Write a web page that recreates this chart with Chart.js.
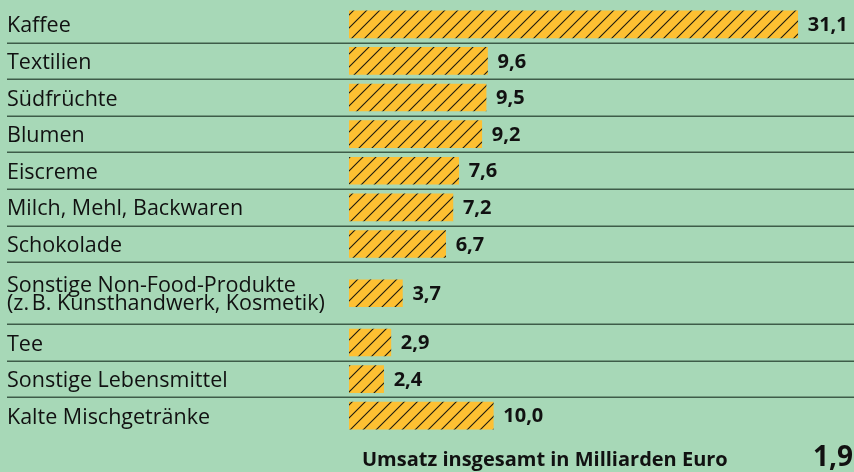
<!DOCTYPE html>
<html>
<head>
<meta charset="utf-8">
<script src="https://cdn.jsdelivr.net/npm/chart.js@4.4.1/dist/chart.umd.min.js"></script>
<style>
  html, body { margin: 0; padding: 0; background: #a7d8b7; }
  #wrap { width: 854px; height: 472px; position: relative; }
</style>
</head>
<body>
<div id="wrap"><canvas id="umsatzChart"></canvas></div>
<script>
/* ---- data ---- */
const categories = [
    'Kaffee',
    'Textilien',
    'Südfrüchte',
    'Blumen',
    'Eiscreme',
    'Milch, Mehl, Backwaren',
    'Schokolade',
    ['Sonstige Non-Food-Produkte', '(z.\u202FB. Kunsthandwerk, Kosmetik)'],
    'Tee',
    'Sonstige Lebensmittel',
    'Kalte Mischgetränke',
];
const values = [31.1, 9.6, 9.5, 9.2, 7.6, 7.2, 6.7, 3.7, 2.9, 2.4, 10.0];
const footerText = 'Umsatz insgesamt in Milliarden Euro';
const totalText = '1,9';

/* ---- styling ---- */
const FONT = "'Open Sans', 'Noto Sans', sans-serif";
const BAR_FILL = '#fdc032';
const HATCH = '#1d1a10';
const RULE = '#3e5c49';

// rows with two label lines are taller
const rowWeights = categories.map(c => Array.isArray(c) ? 1.69 : 1);
const rowEdges = [0];
rowWeights.forEach(w => rowEdges.push(rowEdges[rowEdges.length - 1] + w));
const rowCenters = rowWeights.map((w, i) => rowEdges[i] + w / 2);

function fmt(v) {
    return v.toLocaleString('de-DE', { minimumFractionDigits: 1, maximumFractionDigits: 1 });
}

function makeHatch() {
    const s = 13;
    const c = document.createElement('canvas');
    c.width = s; c.height = s;
    const g = c.getContext('2d');
    g.fillStyle = BAR_FILL;
    g.fillRect(0, 0, s, s);
    g.strokeStyle = HATCH;
    g.lineWidth = 1.1;
    g.beginPath();
    g.moveTo(-2, s + 2); g.lineTo(s + 2, -2);
    g.moveTo(-2, 2); g.lineTo(2, -2);
    g.moveTo(s - 2, s + 2); g.lineTo(s + 2, s - 2);
    g.stroke();
    return document.getElementById('umsatzChart').getContext('2d').createPattern(c, 'repeat');
}

const rowRules = {
    id: 'rowRules',
    beforeDatasetsDraw(chart) {
        const ctx = chart.ctx;
        const y = chart.scales.y;
        ctx.save();
        ctx.strokeStyle = RULE;
        ctx.lineWidth = 1.5;
        for (let i = 1; i < rowEdges.length - 1; i++) {
            const py = Math.round(y.getPixelForValue(rowEdges[i])) + 0.25;
            ctx.beginPath();
            ctx.moveTo(7, py);
            ctx.lineTo(chart.width, py);
            ctx.stroke();
        }
        ctx.restore();
    }
};

const valueLabels = {
    id: 'valueLabels',
    afterDatasetsDraw(chart) {
        const ctx = chart.ctx;
        const meta = chart.getDatasetMeta(0);
        ctx.save();
        ctx.fillStyle = '#111';
        ctx.font = `bold 20px ${FONT}`;
        ctx.textAlign = 'left';
        ctx.textBaseline = 'middle';
        meta.data.forEach((bar, i) => {
            ctx.fillText(fmt(values[i]), bar.x + 10, bar.y + 1);
        });

        // footer line, both parts share a baseline
        ctx.textBaseline = 'alphabetic';
        ctx.fillText(footerText, 362, 466);
        ctx.font = `bold 28px ${FONT}`;
        ctx.textAlign = 'right';
        ctx.fillText(totalText, 853, 466);
        ctx.restore();
    }
};

new Chart(document.getElementById('umsatzChart'), {
    type: 'bar',
    data: {
        datasets: [{
            data: values.map((v, i) => ({ x: v, y: rowCenters[i] })),
            backgroundColor: makeHatch(),
            borderWidth: 0,
            barThickness: 27,
        }]
    },
    options: {
        indexAxis: 'y',
        responsive: true,
        maintainAspectRatio: false,
        animation: false,
        events: [],
        layout: { padding: { left: 7, right: 0, top: 6, bottom: 38 } },
        plugins: {
            legend: { display: false },
            tooltip: { enabled: false },
        },
        scales: {
            x: {
                type: 'linear',
                min: 0,
                max: 35,
                display: false,
            },
            y: {
                type: 'linear',
                reverse: true,
                offset: false,
                min: 0,
                max: rowEdges[rowEdges.length - 1],
                afterBuildTicks: scale => {
                    scale.ticks = rowCenters.map(v => ({ value: v }));
                },
                afterFit: scale => {
                    scale.width = 342;
                    scale.paddingTop = 0;
                    scale.paddingBottom = 0;
                },
                grid: { display: false, drawTicks: false },
                border: { display: false },
                ticks: {
                    autoSkip: false,
                    crossAlign: 'far',
                    padding: 0,
                    labelOffset: 2,
                    color: '#111',
                    font: { family: FONT, size: 21.5, lineHeight: 0.83 },
                    callback: value => {
                        const i = rowCenters.indexOf(value);
                        return i >= 0 ? categories[i] : '';
                    }
                }
            }
        }
    },
    plugins: [rowRules, valueLabels]
});
</script>
</body>
</html>
